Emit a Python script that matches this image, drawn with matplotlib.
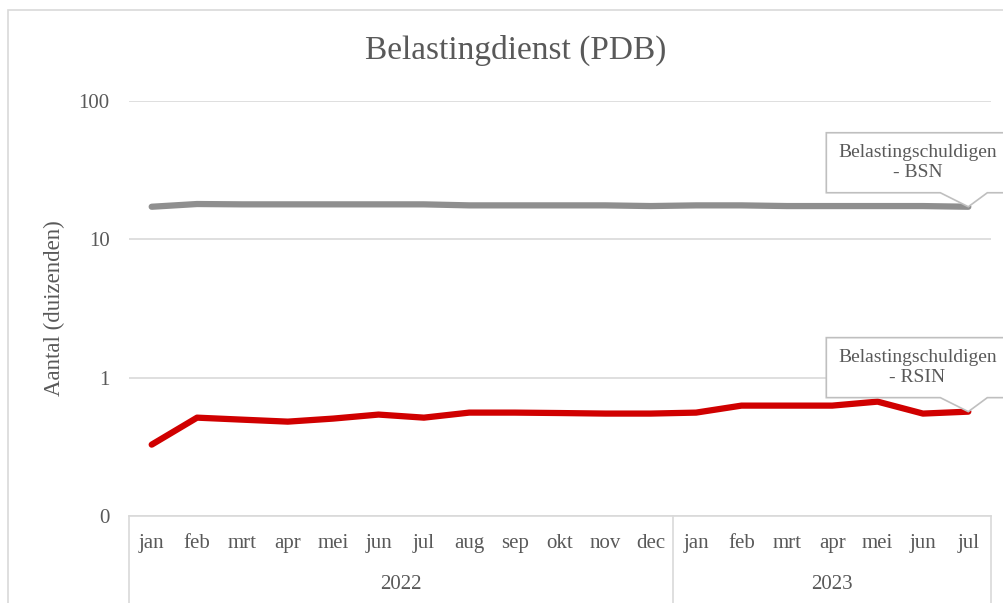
import numpy as np
import matplotlib
matplotlib.use("Agg")
import matplotlib.pyplot as plt
from matplotlib.patches import Rectangle, Polygon
from matplotlib.transforms import ScaledTranslation

months = ["jan", "feb", "mrt", "apr", "mei", "jun", "jul", "aug", "sep", "okt", "nov", "dec",
          "jan", "feb", "mrt", "apr", "mei", "jun", "jul"]
years = ["2022", "2023"]
year_counts = [12, 7]

# aantallen in duizenden
bsn = [17.2, 18.0, 17.9, 17.9, 17.9, 17.9, 17.9, 17.6, 17.6, 17.6, 17.6, 17.4,
       17.6, 17.6, 17.4, 17.4, 17.4, 17.4, 17.2]
rsin = [0.328, 0.514, 0.497, 0.481, 0.506, 0.541, 0.514, 0.559, 0.559, 0.555, 0.55, 0.55,
        0.559, 0.628, 0.628, 0.628, 0.671, 0.55, 0.568]
labels = ["Belastingschuldigen\n- BSN", "Belastingschuldigen\n- RSIN"]

txt = "#595959"
grid = "#d9d9d9"
plt.rcParams["font.family"] = ["Liberation Serif", "DejaVu Serif"]

fig = plt.figure(figsize=(10.04, 6.03), dpi=100)
fig.patches.append(Rectangle((8 / 1004, -0.1), 1.2, 1.1 - 10 / 603, transform=fig.transFigure,
                             fill=False, ec=grid, lw=1.2))
ax = fig.add_axes([129 / 1004, 1 - 516 / 603, 862 / 1004, 415 / 603])

x = np.arange(len(months))
ax.plot(x, bsn, color="#8f8f8f", lw=4.5, solid_capstyle="round", zorder=3)
ax.plot(x, rsin, color="#d00000", lw=4.5, solid_capstyle="round", zorder=3)

ax.set_yscale("log")
ax.set_ylim(0.1, 100)
ax.set_xlim(-0.5, len(months) - 0.5)
ax.set_yticks([0.1, 1, 10, 100])
ax.set_yticklabels(["0", "1", "10", "100"])
ax.yaxis.set_minor_locator(plt.NullLocator())
ax.grid(axis="y", color=grid, lw=1.2)
ax.set_axisbelow(True)
ax.tick_params(axis="y", length=0, pad=14, labelsize=15, labelcolor=txt)
ax.set_xticks(x)
ax.set_xticklabels(months)
ax.tick_params(axis="x", length=0, pad=13, labelsize=15, labelcolor=txt)
for s in ["top", "right", "left"]:
    ax.spines[s].set_visible(False)
ax.spines["bottom"].set_color(grid)
ax.spines["bottom"].set_linewidth(1.2)

# category boxes under the axis
tr = ax.get_xaxis_transform()
edges = np.concatenate([[0], np.cumsum(year_counts)]) - 0.5
for e in edges:
    ax.plot([e, e], [0, -0.25], transform=tr, color=grid, lw=1.2, clip_on=False)
for i, yr in enumerate(years):
    ax.text((edges[i] + edges[i + 1]) / 2, -0.164, yr, transform=tr, ha="center", va="center",
            fontsize=15, color=txt)

ax.set_ylabel("Aantal (duizenden)", fontsize=16.5, color=txt)
ax.yaxis.set_label_coords(-0.074, 0.5)
fig.text(516 / 1004, 1 - 50 / 603, "Belastingdienst (PDB)", ha="center", va="center",
         fontsize=24, color=txt)

# callouts at the last point (shape in pixels relative to the tip)
shape = np.array([(0, 0), (19, 14), (70, 14), (70, 74), (-142, 74), (-142, 14), (-28, 14)]) / 100
last = len(months) - 1
for series, lab in [(bsn, labels[0]), (rsin, labels[1])]:
    off = fig.dpi_scale_trans + ScaledTranslation(last, series[-1], ax.transData)
    ax.add_patch(Polygon(shape, closed=True, transform=off, fc="white", ec="#bfbfbf",
                         lw=1.2, clip_on=False, zorder=5))
    ax.annotate(lab, xy=(last, series[-1]), xytext=(-51 * 0.72, 44 * 0.72),
                textcoords="offset points", ha="center", va="center", fontsize=14,
                color=txt, linespacing=1.25, annotation_clip=False, zorder=6)

fig.savefig("out.png", dpi=100)
